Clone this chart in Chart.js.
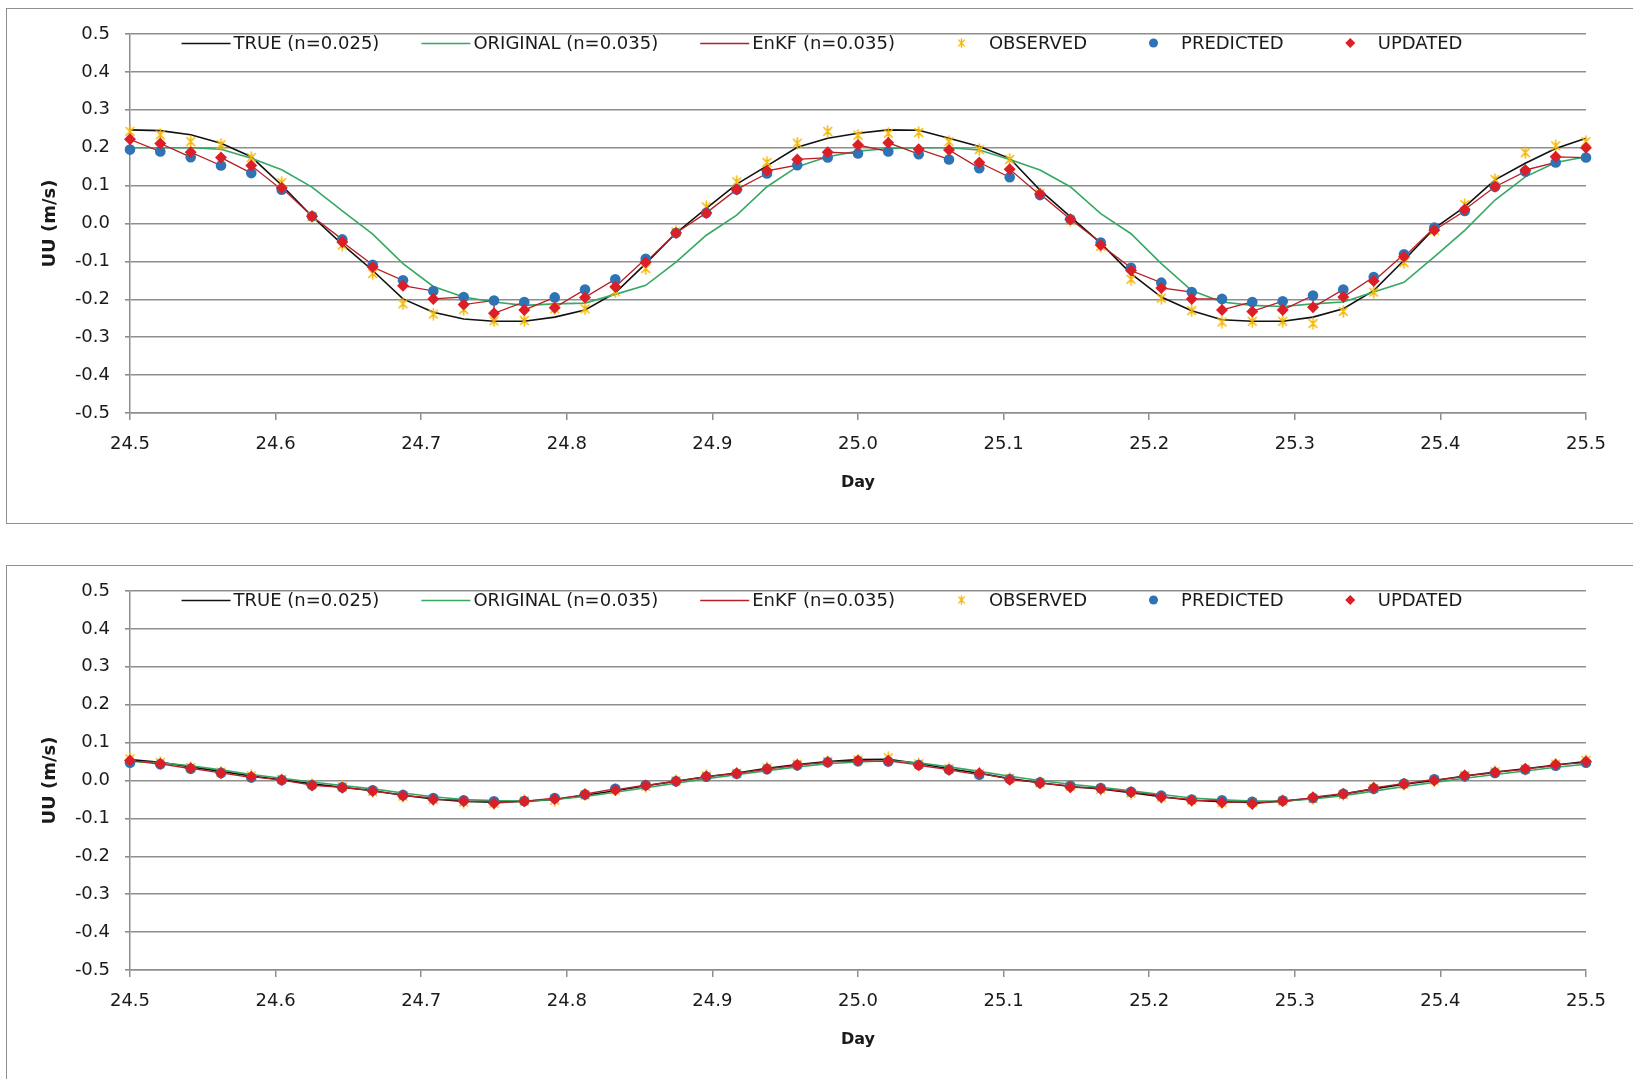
<!DOCTYPE html>
<html>
<head>
<meta charset="utf-8">
<script src="https://cdn.jsdelivr.net/npm/chart.js@4.4.1/dist/chart.umd.min.js"></script>
<style>
  html, body { margin: 0; padding: 0; background: #fff; width: 1633px; height: 1079px; overflow: hidden; position: relative; }
  .frame { position: absolute; left: 6px; width: 1700px; height: 516px; border: 1px solid #8f8f8f; box-sizing: border-box; }
  canvas { position: absolute; left: 0; }
</style>
</head>
<body>
<div class="frame" style="top:8px"></div>
<div class="frame" style="top:565px"></div>
<canvas id="upper" width="1633" height="520" style="top:0;width:1633px;height:520px"></canvas>
<canvas id="lower" width="1633" height="520" style="top:557px;width:1633px;height:520px"></canvas>
<script>
// Assimilation times (day), every 30 minutes
const days = [24.5, 24.5208, 24.5417, 24.5625, 24.5833, 24.6042, 24.625, 24.6458, 24.6667, 24.6875,
  24.7083, 24.7292, 24.75, 24.7708, 24.7917, 24.8125, 24.8333, 24.8542, 24.875, 24.8958,
  24.9167, 24.9375, 24.9583, 24.9792, 25.0, 25.0208, 25.0417, 25.0625, 25.0833, 25.1042,
  25.125, 25.1458, 25.1667, 25.1875, 25.2083, 25.2292, 25.25, 25.2708, 25.2917, 25.3125,
  25.3333, 25.3542, 25.375, 25.3958, 25.4167, 25.4375, 25.4583, 25.4792, 25.5];

// Upper panel: velocity UU (m/s)
const upperTrue = [0.247, 0.245, 0.234, 0.212, 0.176, 0.101, 0.019, -0.055, -0.124, -0.199,
  -0.234, -0.252, -0.258, -0.258, -0.247, -0.228, -0.183, -0.106, -0.025, 0.040,
  0.104, 0.152, 0.201, 0.225, 0.238, 0.247, 0.246, 0.225, 0.203, 0.172,
  0.088, 0.018, -0.052, -0.132, -0.194, -0.230, -0.254, -0.258, -0.258, -0.247,
  -0.225, -0.177, -0.097, -0.013, 0.044, 0.115, 0.159, 0.198, 0.225];
const upperOriginal = [0.200, 0.200, 0.200, 0.196, 0.172, 0.142, 0.096, 0.033, -0.028, -0.106,
  -0.166, -0.194, -0.207, -0.216, -0.212, -0.210, -0.187, -0.163, -0.102, -0.031,
  0.022, 0.097, 0.150, 0.176, 0.191, 0.198, 0.200, 0.200, 0.194, 0.169,
  0.141, 0.097, 0.026, -0.027, -0.106, -0.177, -0.207, -0.216, -0.219, -0.212,
  -0.207, -0.181, -0.155, -0.088, -0.018, 0.062, 0.123, 0.161, 0.176];
const upperObserved = [0.243, 0.234, 0.216, 0.208, 0.174, 0.108, 0.018, -0.057, -0.132, -0.212,
  -0.239, -0.227, -0.257, -0.256, -0.225, -0.225, -0.180, -0.119, -0.022, 0.044,
  0.110, 0.161, 0.212, 0.243, 0.233, 0.238, 0.240, 0.216, 0.195, 0.169,
  0.079, 0.009, -0.060, -0.147, -0.197, -0.230, -0.260, -0.258, -0.258, -0.264,
  -0.232, -0.181, -0.103, -0.018, 0.050, 0.116, 0.187, 0.205, 0.216];
const upperPredicted = [0.195, 0.190, 0.175, 0.153, 0.133, 0.089, 0.019, -0.042, -0.109, -0.150,
  -0.178, -0.194, -0.203, -0.207, -0.195, -0.174, -0.147, -0.093, -0.025, 0.028,
  0.090, 0.132, 0.154, 0.174, 0.185, 0.190, 0.183, 0.169, 0.146, 0.122,
  0.075, 0.011, -0.050, -0.117, -0.156, -0.181, -0.199, -0.207, -0.205, -0.190,
  -0.174, -0.141, -0.081, -0.011, 0.033, 0.097, 0.137, 0.161, 0.174];
const upperUpdated = [0.222, 0.211, 0.188, 0.174, 0.153, 0.094, 0.019, -0.049, -0.115, -0.164,
  -0.199, -0.214, -0.237, -0.228, -0.222, -0.195, -0.167, -0.102, -0.025, 0.028,
  0.090, 0.139, 0.169, 0.188, 0.207, 0.213, 0.196, 0.194, 0.161, 0.143,
  0.078, 0.011, -0.057, -0.124, -0.170, -0.199, -0.228, -0.232, -0.228, -0.221,
  -0.194, -0.152, -0.088, -0.018, 0.037, 0.097, 0.141, 0.176, 0.200];

// Lower panel: velocity UU (m/s)
const lowerTrue = [0.055, 0.048, 0.036, 0.024, 0.012, 0.002, -0.009, -0.018, -0.027, -0.039,
  -0.049, -0.055, -0.057, -0.055, -0.050, -0.039, -0.027, -0.014, -0.002, 0.010,
  0.020, 0.032, 0.042, 0.050, 0.055, 0.056, 0.045, 0.031, 0.019, 0.005,
  -0.006, -0.016, -0.022, -0.032, -0.043, -0.052, -0.056, -0.058, -0.055, -0.047,
  -0.036, -0.022, -0.010, 0.000, 0.012, 0.022, 0.031, 0.041, 0.050];
const lowerOriginal = [0.050, 0.047, 0.039, 0.028, 0.016, 0.006, -0.004, -0.013, -0.022, -0.033,
  -0.043, -0.050, -0.053, -0.054, -0.050, -0.042, -0.031, -0.019, -0.007, 0.005,
  0.015, 0.026, 0.036, 0.044, 0.049, 0.052, 0.047, 0.036, 0.024, 0.011,
  0.000, -0.010, -0.018, -0.027, -0.037, -0.046, -0.051, -0.054, -0.054, -0.049,
  -0.040, -0.028, -0.016, -0.005, 0.006, 0.016, 0.025, 0.035, 0.043];
const lowerObserved = [0.057, 0.047, 0.034, 0.022, 0.012, 0.003, -0.010, -0.017, -0.029, -0.041,
  -0.050, -0.057, -0.060, -0.054, -0.052, -0.038, -0.025, -0.015, -0.001, 0.012,
  0.019, 0.033, 0.043, 0.050, 0.054, 0.060, 0.044, 0.031, 0.018, 0.006,
  -0.006, -0.015, -0.023, -0.033, -0.044, -0.052, -0.058, -0.058, -0.054, -0.048,
  -0.037, -0.021, -0.010, 0.001, 0.013, 0.023, 0.030, 0.043, 0.053];
const lowerPredicted = [0.047, 0.043, 0.031, 0.020, 0.008, 0.001, -0.012, -0.018, -0.026, -0.038,
  -0.046, -0.052, -0.055, -0.054, -0.046, -0.037, -0.022, -0.012, -0.002, 0.010,
  0.018, 0.030, 0.040, 0.048, 0.051, 0.050, 0.041, 0.029, 0.015, 0.004,
  -0.005, -0.014, -0.020, -0.030, -0.040, -0.050, -0.052, -0.056, -0.053, -0.046,
  -0.035, -0.022, -0.008, 0.003, 0.011, 0.020, 0.029, 0.039, 0.047];
const lowerUpdated = [0.053, 0.044, 0.032, 0.020, 0.010, 0.001, -0.013, -0.019, -0.028, -0.040,
  -0.050, -0.055, -0.060, -0.055, -0.049, -0.036, -0.025, -0.013, -0.002, 0.011,
  0.019, 0.031, 0.041, 0.049, 0.053, 0.052, 0.040, 0.028, 0.019, 0.002,
  -0.007, -0.018, -0.022, -0.031, -0.044, -0.053, -0.058, -0.062, -0.054, -0.044,
  -0.035, -0.019, -0.009, 0.000, 0.013, 0.022, 0.031, 0.042, 0.050];

const seriesLabels = ['TRUE (n=0.025)', 'ORIGINAL (n=0.035)', 'EnKF (n=0.035)', 'OBSERVED', 'PREDICTED', 'UPDATED'];

const FONT = 'DejaVu Sans';
const GRID = '#8e8e8e';
const TEXT = '#1a1a1a';

// Asterisk marker (x plus a vertical stroke)
function makeAsterisk(size, color, lw) {
  const c = document.createElement('canvas');
  c.width = size; c.height = size;
  const g = c.getContext('2d');
  g.strokeStyle = color; g.lineWidth = lw; g.lineCap = 'round';
  const m = size / 2, r = size / 2 - 1, d = r * 0.72;
  g.beginPath();
  g.moveTo(m, m - r); g.lineTo(m, m + r);
  g.moveTo(m - d, m - d); g.lineTo(m + d, m + d);
  g.moveTo(m + d, m - d); g.lineTo(m - d, m + d);
  g.stroke();
  return c;
}
const asterisk = makeAsterisk(13, '#F5B800', 1.6);

function pts(ys) { return days.map((d, i) => ({ x: d, y: ys[i] })); }
// Filter trajectory: forecast at each time, then the analysis jump
function filterPath(pred, upd) {
  const out = [];
  days.forEach((d, i) => { out.push({ x: d, y: pred[i] }); out.push({ x: d, y: upd[i] }); });
  return out;
}

// Single-row legend drawn inside the plot area
const rowLegend = {
  id: 'rowLegend',
  afterDraw(chart, args, opts) {
    const ctx = chart.ctx;
    ctx.save();
    ctx.font = opts.size + 'px "' + FONT + '"';
    ctx.textBaseline = 'middle';
    const items = chart.data.datasets.map(ds => ({ ds, w: ctx.measureText(ds.label).width }));
    const total = items.reduce((s, it) => s + opts.sample + opts.textGap + it.w, 0) + opts.itemGap * (items.length - 1);
    let x = opts.centerX - total / 2;
    const y = opts.y;
    items.forEach(({ ds, w }) => {
      const cx = x + opts.sample / 2;
      if (ds.showLine !== false) {
        ctx.strokeStyle = ds.borderColor; ctx.lineWidth = ds.borderWidth;
        ctx.beginPath(); ctx.moveTo(x, y + 0.5); ctx.lineTo(x + opts.sample, y + 0.5); ctx.stroke();
      } else if (ds.pointStyle === 'circle') {
        ctx.fillStyle = ds.pointBackgroundColor;
        ctx.beginPath(); ctx.arc(cx, y, 4.5, 0, Math.PI * 2); ctx.fill();
      } else if (ds.pointStyle === 'rectRot') {
        ctx.fillStyle = ds.pointBackgroundColor;
        ctx.beginPath(); ctx.moveTo(cx, y - 5); ctx.lineTo(cx + 5, y); ctx.lineTo(cx, y + 5); ctx.lineTo(cx - 5, y); ctx.closePath(); ctx.fill();
      } else {
        ctx.drawImage(ds.pointStyle, cx - 5, y - 5, 10, 10);
      }
      ctx.fillStyle = TEXT;
      ctx.fillText(ds.label, x + opts.sample + opts.textGap, y + 1);
      x += opts.sample + opts.textGap + w + opts.itemGap;
    });
    ctx.restore();
  }
};

function fmt(v) { return (Math.abs(v) < 1e-9 ? 0 : v).toFixed(1); }

function buildChart(id, s) {
  return new Chart(document.getElementById(id), {
    type: 'line',
    data: {
      datasets: [
        { label: seriesLabels[0], data: pts(s.truth), borderColor: '#111111', borderWidth: 1.6, pointRadius: 0, tension: 0, order: 6 },
        { label: seriesLabels[1], data: pts(s.original), borderColor: '#35A862', borderWidth: 1.6, pointRadius: 0, tension: 0, order: 5 },
        { label: seriesLabels[2], data: filterPath(s.predicted, s.updated), borderColor: '#B81E26', borderWidth: 1.3, pointRadius: 0, tension: 0, order: 4 },
        { label: seriesLabels[3], data: pts(s.observed), showLine: false, pointStyle: asterisk, pointRadius: 6, borderColor: '#F5B800', pointBackgroundColor: '#F5B800', order: 3 },
        { label: seriesLabels[4], data: pts(s.predicted), showLine: false, pointStyle: 'circle', pointRadius: 5.3, pointBorderWidth: 0, borderColor: '#2E74B5', pointBackgroundColor: '#2E74B5', order: 2 },
        { label: seriesLabels[5], data: pts(s.updated), showLine: false, pointStyle: 'rectRot', pointRadius: 6, pointBorderWidth: 0, borderColor: '#DC1E26', pointBackgroundColor: '#DC1E26', order: 1 }
      ]
    },
    options: {
      responsive: false,
      animation: false,
      events: [],
      clip: 10,
      layout: { padding: { left: 0, right: 47, top: 34, bottom: 0 } },
      font: { family: FONT },
      plugins: {
        legend: { display: false },
        tooltip: { enabled: false },
        rowLegend: { centerX: 822, y: 43, size: 18, sample: 49, textGap: 3, itemGap: 42 }
      },
      scales: {
        x: {
          type: 'linear', min: 24.5, max: 25.5,
          afterFit: sc => { sc.height = 107; },
          ticks: { stepSize: 0.1, callback: fmt, padding: 14, color: TEXT, font: { family: FONT, size: 18 }, maxRotation: 0 },
          grid: { drawOnChartArea: false, drawTicks: true, tickLength: 7, color: GRID, lineWidth: 1.5 },
          border: { display: true, color: GRID, width: 1.5 },
          title: { display: true, text: 'Day', color: TEXT, font: { family: FONT, size: 16, weight: 'bold' }, padding: { top: 0, bottom: 28 } }
        },
        y: {
          min: -0.5, max: 0.5,
          afterFit: sc => { sc.width = 130; },
          ticks: { stepSize: 0.1, callback: fmt, padding: 15, color: TEXT, font: { family: FONT, size: 18 } },
          grid: { color: GRID, lineWidth: 1.6, tickLength: 5, drawTicks: true },
          border: { display: true, color: GRID, width: 1.5 },
          title: { display: true, text: 'UU (m/s)', color: TEXT, font: { family: FONT, size: 18, weight: 'bold' }, padding: { top: 40, bottom: 0 } }
        }
      }
    },
    plugins: [rowLegend]
  });
}

buildChart('upper', { truth: upperTrue, original: upperOriginal, observed: upperObserved, predicted: upperPredicted, updated: upperUpdated });
buildChart('lower', { truth: lowerTrue, original: lowerOriginal, observed: lowerObserved, predicted: lowerPredicted, updated: lowerUpdated });
</script>
</body>
</html>
